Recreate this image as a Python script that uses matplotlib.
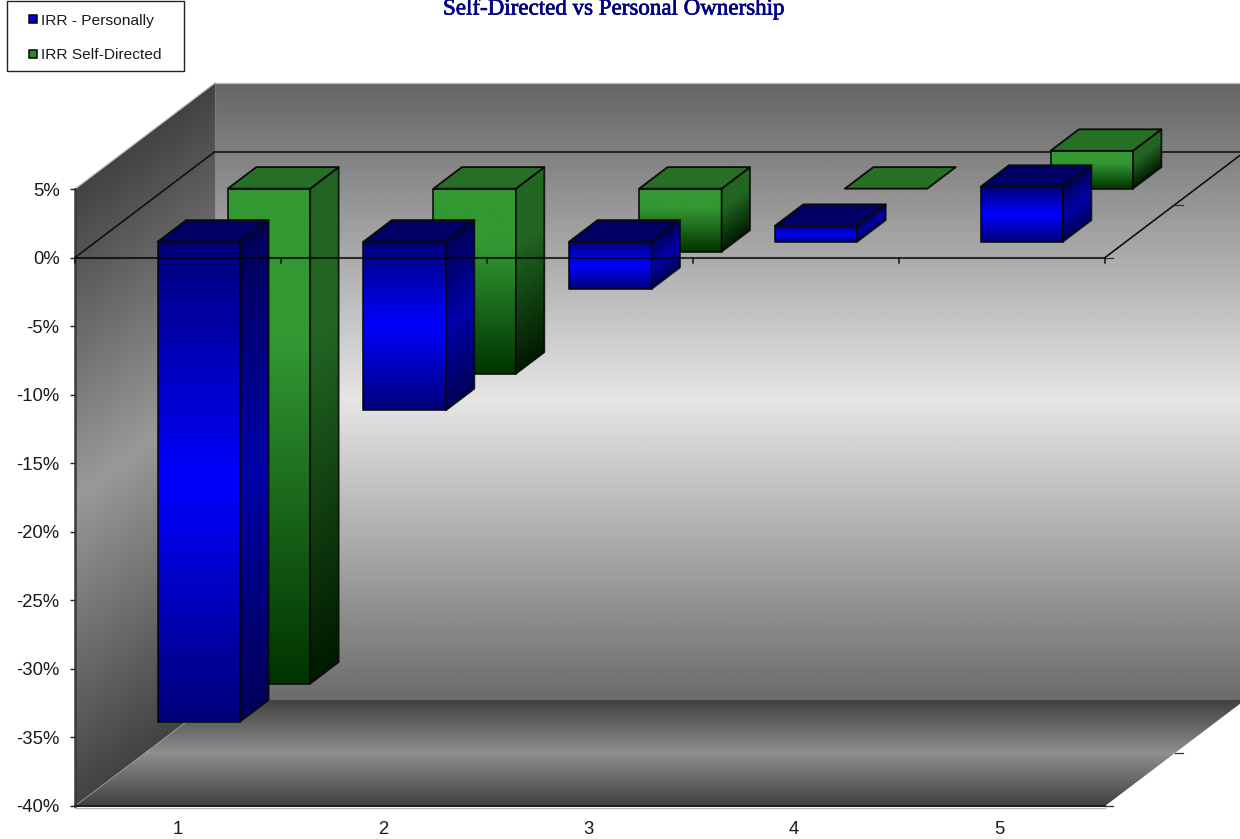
import numpy as np
import matplotlib
matplotlib.use("Agg")
import matplotlib.pyplot as plt
import matplotlib.patheffects as pe
from matplotlib.colors import LinearSegmentedColormap
from matplotlib.patches import Polygon, Rectangle
from matplotlib.ticker import FuncFormatter

# Internal rate of return by holding period, in percent
categories = [1, 2, 3, 4, 5]
irr_personally = [-35.0, -12.3, -3.45, 1.15, 4.0]
irr_self_directed = [-36.1, -13.5, -4.6, 0.0, 2.76]
y_ticks = [-40, -35, -30, -25, -20, -15, -10, -5, 0, 5]
series_names = ["IRR - Personally", "IRR Self-Directed"]
chart_title = "Self-Directed vs Personal Ownership"

FIG_W, FIG_H = 1240, 839
X_MIN, X_MAX = 0.5, 5.5
Y_MIN, Y_MAX = -40.0, 5.0

# Oblique projection: moving through the full depth shifts a point by this much
DEPTH_DX = 140 / 206
DEPTH_DY = 106 / (617 / 45)

BAR_HALF = 0.2
BAR_DEPTH = 0.203
BAR_SPACING = 0.9985
LABEL_SPACING = 0.9965
SERIES_DEPTH = {"blue": 0.15, "green": 0.65}

fig = plt.figure(figsize=(FIG_W / 100, FIG_H / 100), dpi=100, facecolor="white")
ax = fig.add_axes([75 / FIG_W, (FIG_H - 806) / FIG_H, 1030 / FIG_W, 617 / FIG_H])
ax.set_facecolor("none")
ax.set_xlim(X_MIN, X_MAX)
ax.set_ylim(Y_MIN, Y_MAX)
ax.set_autoscale_on(False)


def proj(x, y, d):
    """Project a (category, value, depth fraction) point onto the axes plane."""
    return x + d * DEPTH_DX, y + d * DEPTH_DY


def shaded_face(corners, shade, cmap, z, edge=None, lw=1.3):
    """Fill a polygon with an image whose colour follows shade(x, y) in 0..1."""
    corners = np.asarray(corners)
    x0, x1 = corners[:, 0].min(), corners[:, 0].max()
    y0, y1 = corners[:, 1].min(), corners[:, 1].max()
    gx, gy = np.meshgrid(np.linspace(x0, x1, 300), np.linspace(y0, y1, 700))
    data = shade(gx, gy)
    im = ax.imshow(data, extent=(x0, x1, y0, y1), origin="lower", aspect="auto",
                   cmap=cmap, vmin=0, vmax=1, zorder=z, interpolation="bilinear")
    clip = Polygon(corners, closed=True, transform=ax.transData, fill=False, edgecolor="none")
    im.set_clip_box(fig.bbox)
    im.set_clip_path(clip)
    if edge is not None:
        ax.add_patch(Polygon(corners, closed=True, fill=False, edgecolor=edge, lw=lw,
                             clip_on=False, zorder=z + 0.01, joinstyle="round", alpha=0.85))


def grey_map(dark, light):
    return LinearSegmentedColormap.from_list("g", [(dark,) * 3, (light,) * 3])


def folded(t):
    return 1 - np.abs(2 * t - 1)


# Back wall, side wall and floor of the plot box
wall = [proj(X_MIN, Y_MIN, 1), proj(X_MAX, Y_MIN, 1), proj(X_MAX, Y_MAX, 1), proj(X_MIN, Y_MAX, 1)]
bw_low, bw_high = wall[0][1], wall[2][1]
shaded_face(wall, lambda x, y: folded((y - bw_low) / (bw_high - bw_low) * 0.985 + 0.02),
            grey_map(0.40, 0.90), 1)

side = [proj(X_MIN, Y_MIN, 0), proj(X_MIN, Y_MIN, 1), proj(X_MIN, Y_MAX, 1), proj(X_MIN, Y_MAX, 0)]
shaded_face(side,
            lambda x, y: folded((y - Y_MIN - (x - X_MIN) / DEPTH_DX * DEPTH_DY) / (Y_MAX - Y_MIN)),
            grey_map(0.26, 0.60), 1.1)

floor = [proj(X_MIN, Y_MIN, 0), proj(X_MAX, Y_MIN, 0), proj(X_MAX, Y_MIN, 1), proj(X_MIN, Y_MIN, 1)]
shaded_face(floor, lambda x, y: folded((y - Y_MIN) / DEPTH_DY), grey_map(0.25, 0.56), 1.2)

# Thin highlights along the box edges
for a, b in [(wall[3], wall[2]), (side[3], side[2])]:
    ax.plot(*zip(a, b), color="#bdbdbd", lw=0.9, zorder=1.3, clip_on=False)
ax.plot(*zip(floor[0], floor[3]), color="#a0a0a0", lw=0.7, alpha=0.7, zorder=1.3, clip_on=False)
ax.plot(*zip(side[2], side[1]), color="#8a8a8a", lw=1.0, alpha=0.4, zorder=1.3, clip_on=False)

# Outline of the plane at value zero
line_kw = dict(color="#111111", lw=1.2, zorder=2, clip_on=False, solid_capstyle="butt")
ax.plot(*zip(proj(X_MIN, 0, 1), proj(X_MAX, 0, 1)), **line_kw)
ax.plot(*zip(proj(X_MIN, 0, 0), proj(X_MIN, 0, 1)), **line_kw)
ax.plot(*zip(proj(X_MAX, 0, 0), proj(X_MAX, 0, 1)), **line_kw)

# Depth ticks on the right-hand edges
for base in (0, Y_MIN):
    for d in (0, 0.5):
        px, py = proj(X_MAX, base, d)
        ax.plot([px, px + 8 / 206], [py, py], color="#333333", lw=0.9, zorder=2, clip_on=False)

face_maps = {
    "blue": (
        LinearSegmentedColormap.from_list("bf", ["#000078", "#0000ff", "#000078"]),
        LinearSegmentedColormap.from_list("bs", ["#000058", "#0000a8", "#000058"]),
        "#000064",
    ),
    "green": (
        LinearSegmentedColormap.from_list("gf", [(0, "#339933"), (0.3, "#339933"), (1, "#003300")]),
        LinearSegmentedColormap.from_list("gs", [(0, "#226622"), (0.3, "#226622"), (1, "#001a00")]),
        "#267026",
    ),
}


def draw_bar(cat, value, depth, kind, z):
    """Draw one bar rising or falling from zero at the given depth fraction."""
    front_map, side_map, top_color = face_maps[kind]
    centre = 1 + (cat - 1) * BAR_SPACING
    xl, xr = centre - BAR_HALF, centre + BAR_HALF
    hi, lo = max(value, 0.0), min(value, 0.0)
    d0, d1 = depth, depth + BAR_DEPTH
    span = max(hi - lo, 1e-6)

    if hi > lo:
        fy = proj(0, 0, d0)[1]
        front = [proj(xl, lo, d0), proj(xr, lo, d0), proj(xr, hi, d0), proj(xl, hi, d0)]
        shaded_face(front, lambda x, y: (fy + hi - y) / span, front_map, z, edge="#060606")
        fx = proj(xr, 0, d0)[0]
        right = [proj(xr, lo, d0), proj(xr, lo, d1), proj(xr, hi, d1), proj(xr, hi, d0)]
        shaded_face(right,
                    lambda x, y: np.clip((fy + hi - y + (x - fx) / DEPTH_DX * DEPTH_DY) / span, 0, 1),
                    side_map, z + 0.1, edge="#060606")
    top = [proj(xl, hi, d0), proj(xr, hi, d0), proj(xr, hi, d1), proj(xl, hi, d1)]
    ax.add_patch(Polygon(top, closed=True, facecolor=top_color, edgecolor="#0a0a0a", lw=1.3,
                         clip_on=False, zorder=z + 0.2, joinstyle="round"))


for c, v in zip(categories, irr_self_directed):
    draw_bar(c, v, SERIES_DEPTH["green"], "green", 3 + c * 0.3)
for c, v in zip(categories, irr_personally):
    draw_bar(c, v, SERIES_DEPTH["blue"], "blue", 6 + c * 0.3)

# Front zero line and its category ticks sit over the bars
ax.axhline(0, color="#000000", lw=1.5, alpha=0.75, zorder=9, clip_on=False)
for b in np.arange(X_MIN, X_MAX + 1):
    ax.plot([b, b], [0, -0.4], color="#111111", lw=1.1, zorder=9, clip_on=False)

# Soft light rule under the floor's front edge
ax.plot([X_MIN, X_MAX], [Y_MIN - 0.12, Y_MIN - 0.12], color="#b8b8b8", lw=1.0, zorder=1.4, clip_on=False)

# Axes
ax.set_yticks(y_ticks)
ax.yaxis.set_major_formatter(FuncFormatter(lambda v, _: f"{v:.0f}%"))
ax.set_xticks([1 + (c - 1) * LABEL_SPACING for c in categories])
ax.set_xticklabels([str(c) for c in categories])
for lab in ax.get_yticklabels() + ax.get_xticklabels():
    lab.set_fontfamily("Liberation Sans")
    lab.set_fontsize(13.3)
    lab.set_color("#1a1a1a")
ax.tick_params(axis="y", length=3.6, width=1.0, pad=7.5, color="#222222")
ax.tick_params(axis="x", length=0, pad=10.5)
for name in ("top", "right"):
    ax.spines[name].set_visible(False)
ax.spines["left"].set_color("#3a3a3a")
ax.spines["left"].set_linewidth(1.8)
ax.spines["bottom"].set_color("#1c1c1c")
ax.spines["bottom"].set_linewidth(1.4)
ax.spines["left"].set_zorder(1.5)
ax.spines["bottom"].set_zorder(1.5)

# Title, running into the top of the canvas
title = fig.text(614 / FIG_W, 1 - 14.5 / FIG_H, chart_title, ha="center", va="baseline",
                 family="Liberation Serif", size=16.55, color="#000080")
title.set_path_effects([pe.withStroke(linewidth=0.5, foreground="#000080")])

# Legend box in the top-left corner
fig.add_artist(Rectangle((6.5 / FIG_W, 1 - 71 / FIG_H), 177.5 / FIG_W, 70 / FIG_H,
                         transform=fig.transFigure, facecolor="white",
                         edgecolor="#222222", lw=1.0, zorder=20))
legend_rows = [(19, "#0000e0", series_names[0]), (53.5, "#2a8a2a", series_names[1])]
for row_y, swatch, label in legend_rows:
    fig.add_artist(Rectangle((29.5 / FIG_W, 1 - (row_y + 4) / FIG_H), 8 / FIG_W, 8 / FIG_H,
                             transform=fig.transFigure, facecolor=swatch,
                             edgecolor="#050505", lw=1.1, zorder=21))
    fig.text(41 / FIG_W, 1 - row_y / FIG_H, label, ha="left", va="center_baseline",
             family="Liberation Sans", size=11.15, color="#1a1a1a", zorder=21)

fig.savefig("out.png", dpi=100)
